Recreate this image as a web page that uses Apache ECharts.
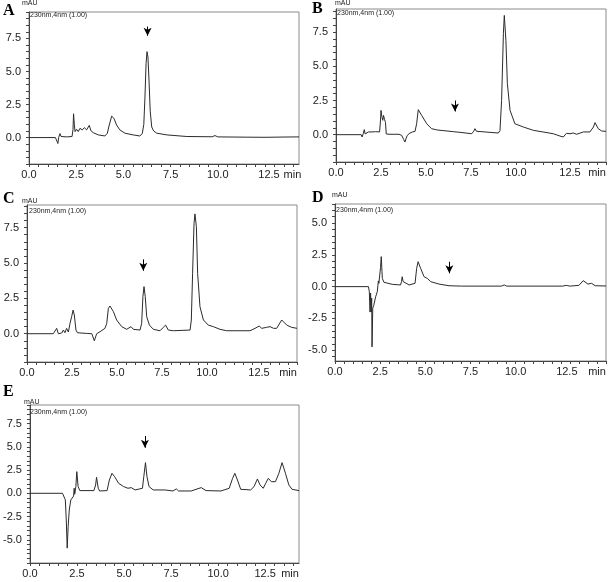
<!DOCTYPE html>
<html><head><meta charset="utf-8">
<script src="https://cdn.jsdelivr.net/npm/echarts@6/dist/echarts.min.js"></script>
<style>html,body{margin:0;padding:0;background:#fff}#c{width:609px;height:582px}</style>
</head><body><div id="c"></div>
<script>
// ---------- text ----------
const panelLetters = ['A', 'B', 'C', 'D', 'E'];
const detectorText = '230nm,4nm (1.00)';
const yUnit = 'mAU';
const xUnit = 'min';

// ---------- tick labels ----------
const xLabels = [0, 2.5, 5, 7.5, 10, 12.5];
const yLabelsA = [0, 2.5, 5, 7.5];
const yLabelsB = [0, 2.5, 5, 7.5];
const yLabelsC = [0, 2.5, 5, 7.5];
const yLabelsD = [-5, -2.5, 0, 2.5, 5];
const yLabelsE = [-5, -2.5, 0, 2.5, 5, 7.5];

// ---------- chromatogram traces [time (min), absorbance (mAU)] ----------
const traceA = [[0,0],[1.40,0],[1.48,-0.1],[1.53,-0.45],[1.57,0],[1.64,0.3],[1.70,0.08],[2.0,0.05],[2.28,0.08],[2.33,0.6],[2.36,1.8],[2.40,1.0],[2.44,0.45],[2.52,0.63],[2.61,0.45],[2.70,0.70],[2.82,0.58],[2.93,0.75],[3.05,0.58],[3.19,0.92],[3.28,0.52],[3.40,0.37],[3.67,0.2],[4.02,0.12],[4.15,0.33],[4.25,0.95],[4.38,1.62],[4.5,1.45],[4.64,0.95],[4.81,0.58],[5.08,0.33],[5.52,0.2],[5.87,0.12],[6.0,0.3],[6.08,1.0],[6.14,3.0],[6.2,5.6],[6.25,6.5],[6.3,6.1],[6.36,4.2],[6.42,2.0],[6.5,0.8],[6.6,0.5],[6.77,0.33],[7.3,0.2],[8.36,0.08],[9.7,0.06],[9.85,0.15],[10.0,0.05],[11.5,0.03],[12.5,0.02],[13.5,0.04],[14.3,0.05]];
const traceB = [[0,0],[1.40,0],[1.45,-0.17],[1.52,0.1],[1.57,0.37],[1.62,0.05],[1.72,0.12],[1.80,0.2],[1.9,0.08],[2.0,0.2],[2.1,0.1],[2.2,0.22],[2.3,0.12],[2.42,0.2],[2.47,1.0],[2.5,1.78],[2.55,1.3],[2.6,1.05],[2.64,1.41],[2.70,1.1],[2.75,0.9],[2.79,0.05],[3.0,0.03],[3.5,0.03],[3.65,-0.05],[3.76,-0.35],[3.83,-0.54],[3.9,-0.25],[3.96,-0.05],[4.11,0.12],[4.25,0.2],[4.39,0.24],[4.48,0.8],[4.57,1.83],[4.76,1.41],[5.04,0.8],[5.31,0.44],[5.6,0.35],[5.78,0.32],[5.87,0.44],[5.95,0.3],[6.06,0.24],[6.52,0.22],[6.61,0.32],[6.89,0.17],[7.54,0.07],[7.65,0.25],[7.72,0.44],[7.8,0.25],[7.91,0.12],[9.02,0.12],[9.11,0.3],[9.2,2.5],[9.3,7.39],[9.35,8.73],[9.44,6.9],[9.52,3.73],[9.67,1.78],[9.94,0.8],[10.41,0.56],[10.96,0.32],[12.07,0.07],[12.44,-0.1],[12.63,-0.17],[12.8,0.1],[13.0,0.07],[13.19,0.12],[13.37,0.03],[13.74,0.2],[14.11,0.2],[14.3,0.56],[14.39,0.88],[14.57,0.44],[14.76,0.27],[15,0.24]];
const traceC = [[0,0],[1.46,0],[1.56,-0.1],[1.65,0.38],[1.74,0.0],[1.83,0.14],[1.93,0.05],[2.02,0.26],[2.11,0.07],[2.2,0.38],[2.3,0.12],[2.39,0.73],[2.48,1.2],[2.56,1.67],[2.63,1.32],[2.72,0.26],[2.8,0.07],[3.31,0.02],[3.6,0.0],[3.74,-0.5],[3.87,0.0],[4.06,0.14],[4.33,0.38],[4.43,0.73],[4.52,1.79],[4.61,1.96],[4.8,1.56],[4.98,0.97],[5.26,0.5],[5.54,0.31],[5.78,0.5],[5.91,0.31],[6.28,0.26],[6.37,0.73],[6.44,2.62],[6.5,3.33],[6.57,2.62],[6.65,1.2],[6.8,0.61],[7.02,0.31],[7.39,0.21],[7.57,0.45],[7.7,0.61],[7.85,0.26],[8.13,0.21],[9.06,0.26],[9.13,0.97],[9.2,4.27],[9.28,7.8],[9.33,8.47],[9.41,7.57],[9.48,4.27],[9.61,1.91],[9.8,0.97],[10.07,0.61],[10.35,0.5],[10.72,0.31],[11.09,0.21],[12.39,0.21],[12.67,0.38],[12.9,0.54],[13.04,0.38],[13.31,0.45],[13.5,0.5],[13.7,0.38],[13.87,0.38],[14.15,0.97],[14.24,1.06],[14.43,0.61],[14.7,0.45],[15,0.38]];
const traceD = [[0,0],[1.85,0],[1.9,-0.4],[1.94,-2.0],[1.97,-0.5],[2.0,-2.0],[2.03,-0.9],[2.05,-4.74],[2.09,-1.7],[2.14,-1.5],[2.25,-0.8],[2.34,-0.4],[2.4,0.45],[2.43,0.26],[2.48,0.4],[2.52,1.5],[2.56,2.36],[2.6,1.2],[2.62,0.65],[2.71,0.34],[3.17,0.18],[3.63,0.13],[3.68,0.4],[3.72,0.78],[3.77,0.4],[3.82,0.26],[4.1,0.13],[4.43,0.26],[4.52,1.44],[4.6,1.96],[4.74,1.44],[4.93,0.78],[5.11,0.65],[5.3,0.39],[5.76,0.2],[6.31,0.07],[7.0,0.04],[9.2,0.04],[9.37,0.13],[9.5,0.04],[12.6,0.04],[12.8,0.1],[13.0,0.04],[13.5,0.1],[13.74,0.47],[14.0,0.2],[14.2,0.26],[14.4,0.07],[15,0.05]];
const traceE = [[0,0],[1.73,0],[1.82,-0.18],[1.88,-0.7],[1.93,-2.87],[1.98,-5.9],[2.03,-3.58],[2.09,-1.8],[2.17,-0.72],[2.26,-0.54],[2.32,-0.3],[2.35,0.54],[2.38,-0.1],[2.44,0.72],[2.49,2.33],[2.56,0.72],[2.65,0.29],[3.4,0.29],[3.49,0.9],[3.54,1.72],[3.63,0.54],[3.7,0.25],[4.1,0.29],[4.22,1.43],[4.36,2.15],[4.5,1.79],[4.71,1.08],[4.98,0.72],[5.21,0.54],[5.38,0.61],[5.59,0.36],[5.98,0.54],[6.05,1.79],[6.14,3.3],[6.22,1.79],[6.33,0.72],[6.55,0.36],[7.17,0.36],[7.6,0.25],[7.78,0.47],[7.9,0.25],[8.57,0.25],[9.1,0.61],[9.36,0.29],[10.15,0.25],[10.59,0.54],[10.77,1.61],[10.89,2.15],[11.03,1.43],[11.2,0.43],[11.73,0.36],[11.91,0.72],[12.09,1.54],[12.23,0.9],[12.4,0.54],[12.53,1.08],[12.67,1.61],[12.83,1.25],[13.05,1.25],[13.23,2.15],[13.4,3.3],[13.58,2.15],[13.76,0.9],[13.93,0.43],[14.3,0.29]];

// ---------- arrows [time, start mAU, end mAU] ----------
const arrowA = [6.28, 8.4, 7.7];
const arrowB = [6.61, 2.5, 1.7];
const arrowC = [6.46, 5.26, 4.45];
const arrowD = [6.33, 1.96, 1.05];
const arrowE = [6.11, 6.17, 4.9];

// ---------- layout (positions / sizes / styles) ----------
const panels = [
  { trace: traceA, arrow: arrowA, yLabels: yLabelsA, grid: { left: 29, top: 12, width: 270, height: 152 }, xMax: 14.3, yMin: -2, yMax: 9.5,
    letter: [3, 3], unit: [22, 0], det: [30, 12], lastShift: 8 },
  { trace: traceB, arrow: arrowB, yLabels: yLabelsB, grid: { left: 336, top: 9, width: 270, height: 153 }, xMax: 15, yMin: -2, yMax: 9.2,
    letter: [312, 1], unit: [335, 0], det: [337, 10], lastShift: 18 },
  { trace: traceC, arrow: arrowC, yLabels: yLabelsC, grid: { left: 27, top: 205, width: 270, height: 157 }, xMax: 15, yMin: -2, yMax: 9.1,
    letter: [3, 191], unit: [22, 198], det: [29, 208], lastShift: 14 },
  { trace: traceD, arrow: arrowD, yLabels: yLabelsD, grid: { left: 335, top: 204, width: 271, height: 157 }, xMax: 15, yMin: -5.85, yMax: 6.5,
    letter: [312, 190], unit: [332, 192], det: [336, 207], lastShift: 12 },
  { trace: traceE, arrow: arrowE, yLabels: yLabelsE, grid: { left: 27, top: 405, width: 272, height: 158 }, xMax: 14.3, yMin: -7.5, yMax: 9.5,
    letter: [3, 384], unit: [24, 399], det: [30, 409], lastShift: 0 }
];

function stepTicks(lo, hi, step) {
  const out = [];
  for (let v = Math.ceil(lo / step) * step; v <= hi + 1e-9; v += step) out.push(Math.round(v * 100) / 100);
  return out;
}

const FONT = 'Liberation Sans, Arial, sans-serif';
const grids = [], xAxes = [], yAxes = [], series = [], titles = [];

panels.forEach((p, i) => {
  const lastLabel = xLabels[xLabels.length - 1];
  grids.push(Object.assign({ show: true, borderColor: '#8a8a8a', borderWidth: 1, containLabel: false, z: 0 }, p.grid));
  xAxes.push({
    type: 'value', gridIndex: i, min: 0, max: p.xMax,
    name: xUnit, nameLocation: 'end', nameGap: -9,
    nameTextStyle: { fontFamily: FONT, fontSize: 11, color: '#222', align: 'center', verticalAlign: 'top', padding: [5, 0, 0, 0] },
    axisLine: { show: true, onZero: false, lineStyle: { color: '#444', width: 1 } },
    axisTick: { show: true, inside: false, length: 3, lineStyle: { color: '#444' }, customValues: stepTicks(0, p.xMax, 0.5) },
    axisLabel: {
      show: true, margin: 5, fontFamily: FONT, fontSize: 11, color: '#222', customValues: xLabels,
      formatter: v => (v === lastLabel ? '{s|' + v.toFixed(1) + '}' : v.toFixed(1)),
      rich: { s: { fontFamily: FONT, fontSize: 11, color: '#222', padding: [0, 0, 0, p.lastShift] } }
    },
    splitLine: { show: false }
  });
  yAxes.push({
    type: 'value', gridIndex: i, min: p.yMin, max: p.yMax,
    axisLine: { show: true, onZero: false, lineStyle: { color: '#444', width: 1 } },
    axisTick: { show: true, inside: false, length: 3, lineStyle: { color: '#444' }, customValues: stepTicks(p.yMin, p.yMax, 0.5) },
    axisLabel: { show: true, margin: 8, fontFamily: FONT, fontSize: 11, color: '#222', customValues: p.yLabels, formatter: v => v.toFixed(1) },
    splitLine: { show: false }
  });
  series.push({
    type: 'line', xAxisIndex: i, yAxisIndex: i, data: p.trace,
    showSymbol: false, symbol: 'none', smooth: false, animation: false,
    lineStyle: { color: '#2b2b2b', width: 1 },
    markLine: {
      silent: true, animation: false, symbol: ['none', 'arrow'], symbolSize: [6, 8],
      label: { show: false },
      lineStyle: { color: '#000', width: 1, type: 'solid' },
      data: [[{ coord: [p.arrow[0], p.arrow[1]] }, { coord: [p.arrow[0], p.arrow[2]] }]]
    }
  });
  titles.push({ text: panelLetters[i], left: p.letter[0], top: p.letter[1], padding: 0, z: 10,
    textStyle: { fontFamily: 'Liberation Serif, Times New Roman, serif', fontWeight: 'bold', fontSize: 16, color: '#000' } });
  titles.push({ text: yUnit, left: p.unit[0], top: p.unit[1], padding: 0, z: 10,
    textStyle: { fontFamily: FONT, fontWeight: 'normal', fontSize: 7, color: '#222' } });
  titles.push({ text: detectorText, left: p.det[0], top: p.det[1], padding: 0, z: 10,
    textStyle: { fontFamily: FONT, fontWeight: 'normal', fontSize: 7, color: '#222' } });
});

const chart = echarts.init(document.getElementById('c'), null, { renderer: 'canvas' });
chart.setOption({
  animation: false,
  backgroundColor: '#fff',
  title: titles,
  grid: grids,
  xAxis: xAxes,
  yAxis: yAxes,
  series: series
});
</script>
</body></html>
